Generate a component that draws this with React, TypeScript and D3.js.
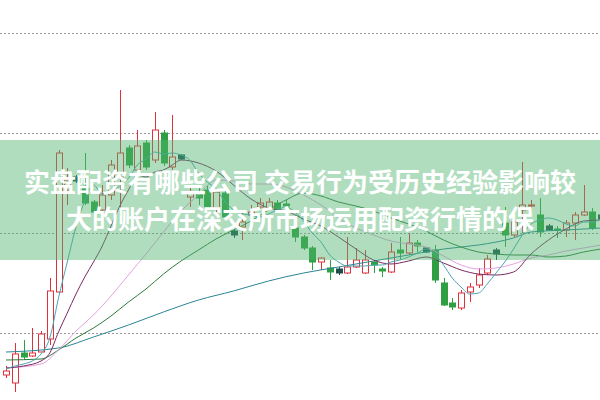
import React from "react";
import * as d3 from "d3";

const W = 600;
const H = 400;

// OHLC per trading day (price units)
const opens = [9.58,9.50,9.80,9.77,9.81,9.94,10.41,11.43,11.54,11.45,11.31,11.23,11.38,11.56,11.85,11.63,11.90,11.73,12.00,11.66,11.76,11.36,11.40,11.43,11.25,11.40,11.00,11.06,11.18,11.26,11.25,11.30,11.29,11.05,10.96,10.85,10.71,10.65,10.62,10.60,10.66,10.60,10.71,10.64,10.61,10.83,10.80,10.90,10.83,10.83,10.50,10.30,10.25,10.41,10.48,10.60,10.81,11.10,10.98,11.23,11.27,11.18,11.05,11.04,11.03,11.10,11.18,11.21,11.16];
const highs = [9.67,9.90,9.93,10.05,10.02,10.55,11.83,11.65,11.58,11.80,11.33,11.48,11.73,12.43,11.88,12.03,11.93,12.21,12.03,12.18,11.79,11.45,11.48,11.47,11.45,11.43,11.04,11.23,11.28,11.35,11.35,11.33,11.33,11.08,10.98,10.87,10.76,10.73,10.66,10.96,10.85,10.83,10.73,10.66,10.90,10.96,11.00,10.93,10.86,10.88,10.55,10.35,10.43,10.50,10.65,10.78,10.85,11.26,11.26,11.71,11.33,11.35,11.09,11.07,11.13,11.21,11.48,11.25,11.20];
const lows = [9.55,9.41,9.73,9.76,9.81,9.88,10.40,11.28,11.50,11.28,11.16,11.18,11.33,11.16,11.65,11.58,11.63,11.70,11.67,11.63,11.73,11.26,11.28,11.23,11.21,11.13,10.95,10.93,11.13,11.23,11.23,11.20,11.24,10.91,10.83,10.63,10.63,10.53,10.58,10.59,10.65,10.59,10.60,10.56,10.60,10.73,10.78,10.81,10.80,10.50,10.27,10.23,10.23,10.31,10.45,10.58,10.73,10.86,10.96,11.00,11.21,10.96,11.02,10.95,10.96,10.93,11.17,11.03,11.12];
const closes = [9.62,9.79,9.76,9.80,9.99,10.42,11.80,11.53,11.54,11.30,11.21,11.38,11.68,11.80,11.68,11.87,11.66,12.03,11.70,11.76,11.76,11.41,11.35,11.25,11.41,11.16,11.00,11.11,11.21,11.30,11.31,11.23,11.27,10.96,10.85,10.71,10.75,10.61,10.62,10.66,10.73,10.73,10.68,10.62,10.81,10.80,10.90,10.87,10.83,10.53,10.28,10.26,10.40,10.46,10.58,10.74,10.81,10.98,11.11,11.28,11.28,11.01,11.05,11.03,11.10,11.18,11.21,11.05,11.16];

// moving averages: [day index, value]
const ma5 = [9.64,9.67,9.69,9.72,9.79,9.95,10.35,10.71,11.06,11.32,11.48,11.39,11.42,11.47,11.55,11.68,11.74,11.81,11.79,11.80,11.78,11.73,11.60,11.51,11.44,11.32,11.23,11.19,11.18,11.16,11.19,11.23,11.26,11.21,11.12,11.00,10.91,10.78,10.71,10.67,10.67,10.67,10.68,10.68,10.71,10.73,10.76,10.80,10.84,10.79,10.68,10.55,10.46,10.39,10.40,10.49,10.60,10.71,10.84,10.98,11.09,11.13,11.15,11.13,11.09,11.07,11.11,11.11,11.14];
const ma10: [number, number][] = [[0,9.65],[2,9.67],[4,9.72],[5,9.80],[6,10.01],[7,10.20],[8,10.39],[9,10.56],[10,10.71],[11,10.87],[12,11.07],[13,11.27],[14,11.43],[15,11.58],[16,11.56],[17,11.61],[18,11.63],[19,11.68],[20,11.73],[22,11.70],[24,11.62],[26,11.48],[28,11.34],[30,11.25],[32,11.22],[34,11.14],[36,11.07],[38,10.96],[40,10.84],[42,10.73],[44,10.69],[46,10.72],[48,10.76],[50,10.70],[52,10.63],[54,10.59],[56,10.58],[58,10.61],[60,10.79],[62,10.93],[64,11.04],[66,11.12],[68,11.13]];
const ma20: [number, number][] = [[0,9.65],[4,9.69],[6,9.83],[8,10.02],[10,10.18],[12,10.37],[14,10.58],[16,10.79],[18,11.01],[20,11.22],[22,11.38],[24,11.53],[26,11.52],[28,11.49],[30,11.49],[32,11.46],[34,11.38],[36,11.28],[38,11.15],[40,11.05],[42,10.98],[44,10.92],[46,10.89],[48,10.86],[50,10.77],[52,10.68],[54,10.64],[56,10.65],[58,10.69],[60,10.75],[62,10.78],[64,10.82],[66,10.85],[68,10.88]];
const ma30: [number, number][] = [[0,9.73],[4,9.74],[6,9.83],[8,9.95],[10,10.05],[12,10.17],[14,10.31],[16,10.44],[18,10.59],[20,10.72],[22,10.83],[24,10.94],[26,11.03],[28,11.12],[30,11.23],[32,11.33],[34,11.40],[36,11.37],[38,11.31],[40,11.27],[42,11.22],[44,11.15],[46,11.09],[48,11.02],[50,10.93],[52,10.86],[54,10.81],[56,10.79],[58,10.78],[60,10.78],[62,10.76],[64,10.77],[66,10.81],[68,10.84]];
const ma60: [number, number][] = [[0,9.81],[6,9.85],[10,9.96],[14,10.08],[18,10.21],[22,10.33],[26,10.42],[30,10.52],[34,10.60],[38,10.66],[42,10.72],[46,10.78],[50,10.84],[54,10.88],[58,10.95],[60,11.01],[64,11.03],[68,11.05]];

const gridValues = [10, 11, 12, 13];
const titleLines = ["实盘配资有哪些公司 交易行为受历史经验影响较", "大的账户在深交所市场运用配资行情的保"];

const UP = "#e0303a";
const DOWN = "#2ea043";
const FLAT = "#1d4f4f";

export default function App() {
  const x = d3.scaleLinear().domain([0, 68]).range([6, 601]);
  const y = d3.scaleLinear().domain([9.33, 13.33]).range([H, 0]);
  const bw = 6;

  const lineIdx = d3.line<[number, number]>().x((d) => x(d[0])).y((d) => y(d[1])).curve(d3.curveMonotoneX);
  const ma5pts: [number, number][] = ma5.map((v, i) => [i, v]);
  const maLines: { pts: [number, number][]; color: string }[] = [
    { pts: ma60, color: "#2b8595" },
    { pts: ma30, color: "#2f7a3c" },
    { pts: ma20, color: "#e6a0e0" },
    { pts: ma10, color: "#7a2a62" },
    { pts: ma5pts, color: "#4aa6b4" },
  ];

  return (
    <svg width={W} height={H} style={{ position: "fixed", left: 0, top: 0, background: "#fff" }}>
      <rect x={0} y={0} width={W} height={H} fill="#fff" />
      {gridValues.map((g) => (
        <line key={g} x1={0} x2={W} y1={Math.round(y(g)) + 0.5} y2={Math.round(y(g)) + 0.5} stroke="#9a9a9a" strokeWidth={1} strokeDasharray="2,2" />
      ))}
      {opens.map((o, i) => {
        const c = closes[i];
        const cx = Math.round(x(i)) + 0.5;
        const flat = Math.abs(c - o) < 0.001;
        const up = c > o;
        const col = flat ? FLAT : up ? UP : DOWN;
        const top = y(Math.max(o, c));
        const bot = y(Math.min(o, c));
        const hgt = Math.max(bot - top, flat ? 4 : 1);
        const by = flat ? top - 2 : top;
        return (
          <g key={i}>
            <line x1={cx} x2={cx} y1={y(highs[i])} y2={by} stroke={col} strokeWidth={1} />
            <line x1={cx} x2={cx} y1={by + hgt} y2={y(lows[i])} stroke={col} strokeWidth={1} />
            {up ? (
              <rect x={cx - bw / 2} y={by} width={bw} height={hgt} fill="#fff" stroke={col} strokeWidth={1} />
            ) : (
              <rect x={cx - bw / 2} y={by} width={bw} height={hgt} fill={col} stroke={col} strokeWidth={1} />
            )}
          </g>
        );
      })}
      {maLines.map((m, k) => (
        <path key={k} d={lineIdx(m.pts) || ""} fill="none" stroke={m.color} strokeWidth={1} />
      ))}
      <rect x={0} y={140} width={W} height={120} fill="rgb(80,180,110)" fillOpacity={0.45} />
      {titleLines.map((t, k) => (
        <text key={k} x={300} y={192 + k * 37} textAnchor="middle" fill="#fff" fontSize={26} fontWeight="bold" fontFamily="'Noto Sans CJK SC', 'Noto Sans', sans-serif">
          {t}
        </text>
      ))}
    </svg>
  );
}
